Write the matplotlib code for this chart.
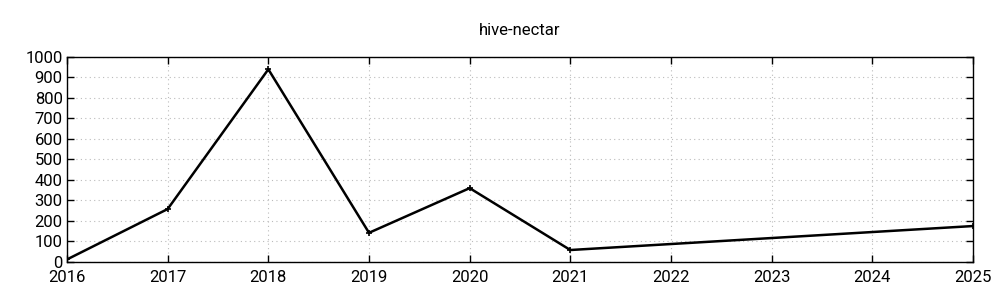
import matplotlib
matplotlib.use("Agg")
import matplotlib.pyplot as plt

# data
years = [2016, 2017, 2018, 2019, 2020, 2021, 2025]
values = [12, 258, 940, 142, 360, 58, 175]
x_ticks = list(range(2016, 2026))
y_ticks = list(range(0, 1001, 100))

plt.rcParams['font.family'] = ['Roboto', 'DejaVu Sans']
plt.rcParams['font.size'] = 12

fig = plt.figure(figsize=(10, 3), dpi=100)
ax = fig.add_axes([0.067, 0.127, 0.906, 0.683])

ax.plot(years, values, color="black", linewidth=1.8, marker="+",
        markersize=5, markeredgewidth=1.2)

ax.set_xlim(2016, 2025)
ax.set_ylim(0, 1000)
ax.set_xticks(x_ticks)
ax.set_yticks(y_ticks)
ax.grid(True, color="#bbbbbb", linestyle=(0, (1, 3)), linewidth=0.8)
ax.tick_params(direction="in", top=True, right=True, length=5, width=1,
               labelsize=12, pad=3)
ax.tick_params(axis="x", pad=6)
for s in ax.spines.values():
    s.set_linewidth(1)
ax.set_title("hive-nectar", fontsize=12, pad=16)

fig.savefig("out.png", dpi=100)
